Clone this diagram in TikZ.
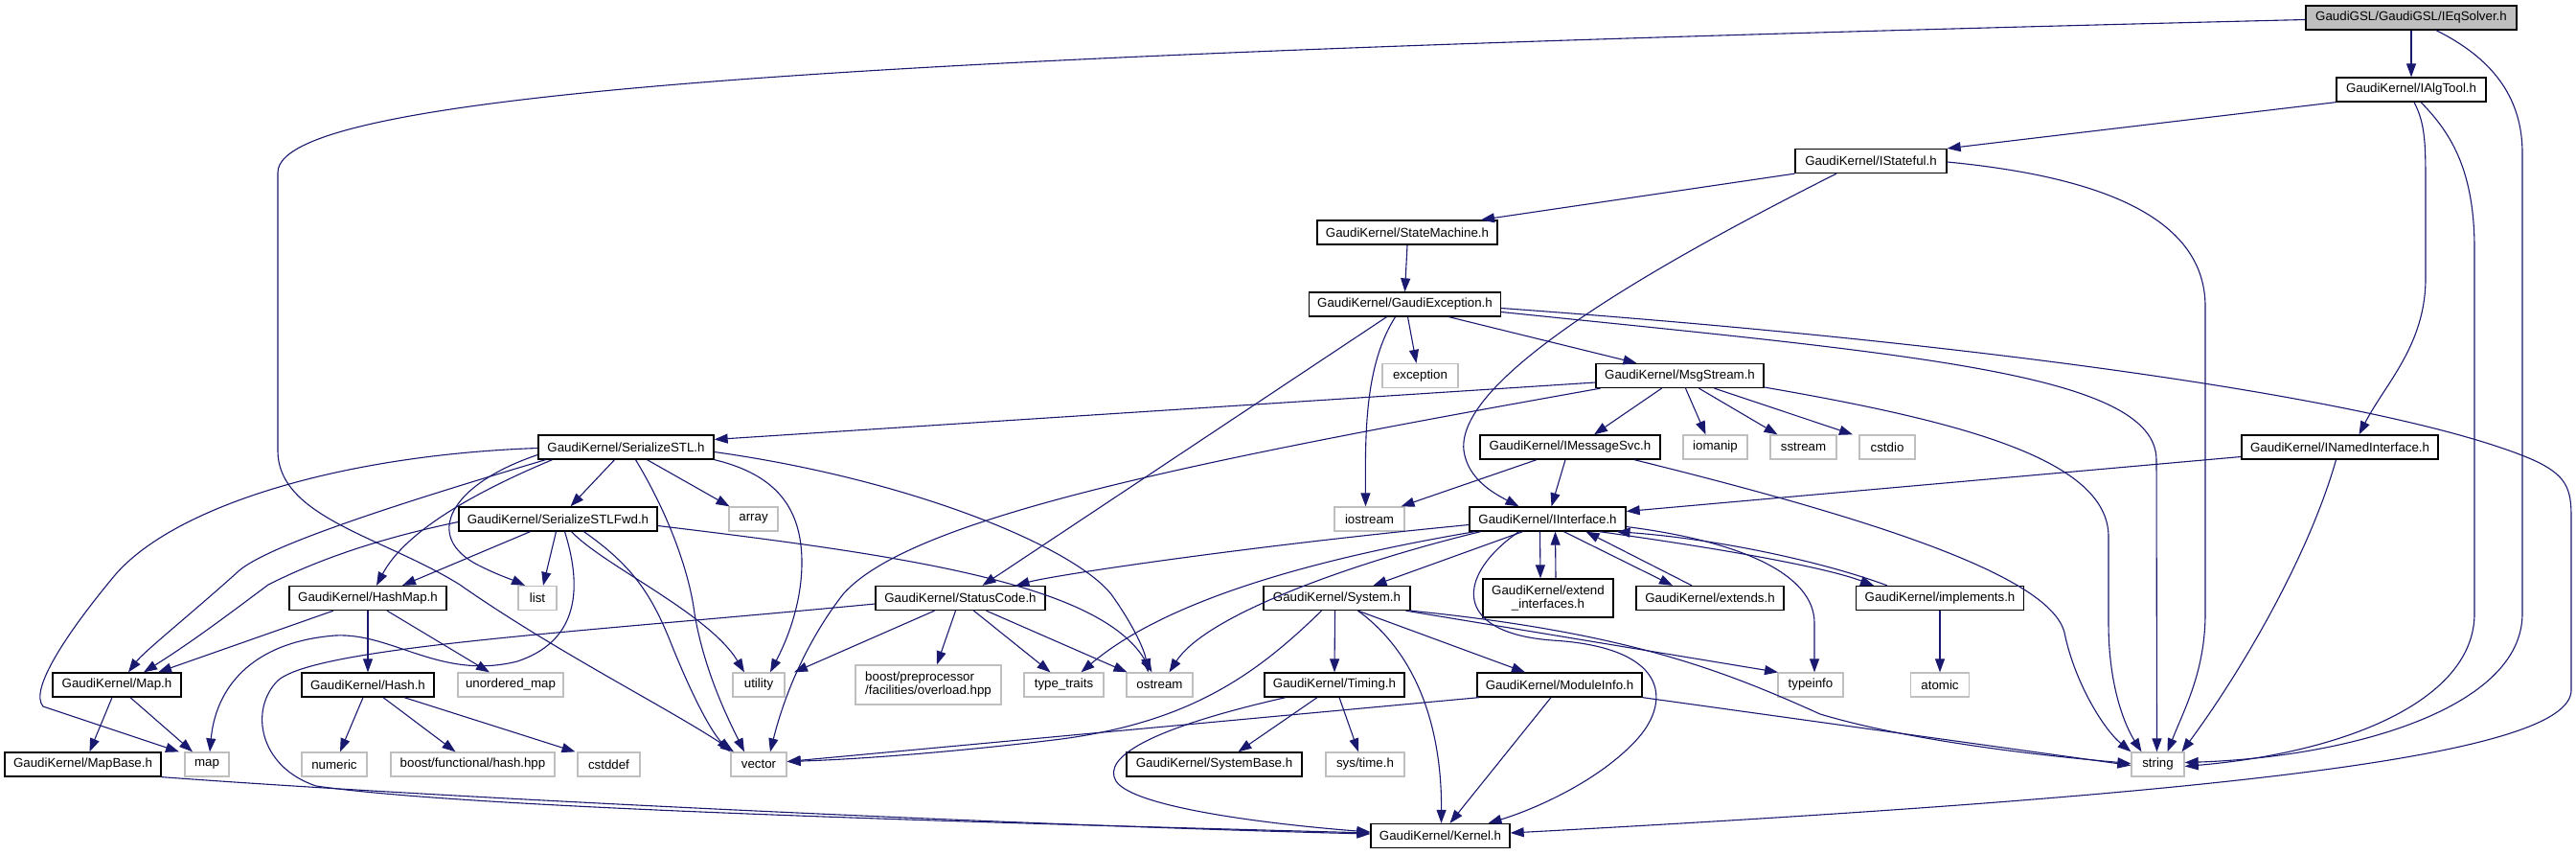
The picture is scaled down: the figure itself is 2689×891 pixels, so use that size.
\documentclass[tikz,border=0pt]{standalone}
\usepackage{fontspec}
\setmainfont{Liberation Sans}
\usetikzlibrary{arrows.meta}
\definecolor{edgeblue}{HTML}{191970}
\definecolor{grey75}{HTML}{BFBFBF}
\newcommand{\gfont}{\fontsize{13.3}{14}\selectfont}
\tikzset{
  hdr/.style={draw=black, line width=1.3pt, fill=white, inner sep=0pt, minimum height=25pt, font=\gfont, align=center},
  ext/.style={draw=grey75, line width=1.3pt, fill=white, inner sep=0pt, minimum height=25pt, font=\gfont, align=center},
  e/.style={draw=edgeblue, line width=1.1pt, -{Triangle[length=14pt,width=10pt]}, fill=none}
}
\begin{document}
\begin{tikzpicture}[x=1pt,y=-1pt]
\useasboundingbox (0,0) rectangle (2689,891);
% ---- nodes ----
\node[hdr, minimum width=220pt, fill=grey75] (IEqSolver) at (2517,18.5) {GaudiGSL/GaudiGSL/IEqSolver.h};
\node[hdr, minimum width=156pt] (IAlgTool) at (2517,93.5) {GaudiKernel/IAlgTool.h};
\node[hdr, minimum width=158pt] (IStateful) at (1953,168) {GaudiKernel/IStateful.h};
\node[hdr, minimum width=188pt] (StateMachine) at (1469,242.5) {GaudiKernel/StateMachine.h};
\node[hdr, minimum width=200pt] (GExc) at (1466.5,317.5) {GaudiKernel/GaudiException.h};
\node[ext, minimum width=79pt] (exception) at (1482.5,392) {exception};
\node[hdr, minimum width=175pt] (MsgStream) at (1753.5,392) {GaudiKernel/MsgStream.h};
\node[hdr, minimum width=188pt] (IMsgSvc) at (1639,466.5) {GaudiKernel/IMessageSvc.h};
\node[ext, minimum width=67pt] (iomanip) at (1790.5,466.5) {iomanip};
\node[ext, minimum width=69pt] (sstream) at (1882.5,466.5) {sstream};
\node[ext, minimum width=58pt] (cstdio) at (1970,466.5) {cstdio};
\node[hdr, minimum width=205pt] (INamed) at (2442.5,466.5) {GaudiKernel/INamedInterface.h};
\node[hdr, minimum width=183pt] (SerSTL) at (653.5,466.5) {GaudiKernel/SerializeSTL.h};
\node[ext, minimum width=73pt] (iostream) at (1429.5,541.5) {iostream};
\node[hdr, minimum width=163pt] (IInterface) at (1615.5,541.5) {GaudiKernel/IInterface.h};
\node[hdr, minimum width=207pt] (SerFwd) at (582.5,541.5) {GaudiKernel/SerializeSTLFwd.h};
\node[ext, minimum width=51pt] (array) at (786.5,541.5) {array};
\node[hdr, minimum width=164pt] (HashMap) at (384,624) {GaudiKernel/HashMap.h};
\node[ext, minimum width=40pt] (list) at (561,624) {list};
\node[hdr, minimum width=177pt] (StatusCode) at (1002.5,624) {GaudiKernel/StatusCode.h};
\node[hdr, minimum width=153pt] (System) at (1395.5,624) {GaudiKernel/System.h};
\node[hdr, minimum width=136pt, minimum height=40pt] (extendif) at (1616,624) {GaudiKernel/extend\\\_interfaces.h};
\node[hdr, minimum width=154pt] (extends) at (1785,624) {GaudiKernel/extends.h};
\node[hdr, minimum width=175pt] (implements) at (2025,624) {GaudiKernel/implements.h};
\node[hdr, minimum width=134pt] (Map) at (122,714.5) {GaudiKernel/Map.h};
\node[hdr, minimum width=138pt] (Hash) at (384,714.5) {GaudiKernel/Hash.h};
\node[ext, minimum width=110pt] (umap) at (533,714.5) {unordered\_map};
\node[ext, minimum width=54pt] (utility) at (792,714.5) {utility};
\node[ext, minimum width=152pt, minimum height=41pt, align=left] (boostpp) at (969,714.5) {boost/preprocessor\\/facilities/overload.hpp};
\node[ext, minimum width=83pt] (typetraits) at (1110.5,714.5) {type\_traits};
\node[ext, minimum width=69pt] (ostream) at (1210.5,714.5) {ostream};
\node[hdr, minimum width=146pt] (Timing) at (1393,714.5) {GaudiKernel/Timing.h};
\node[hdr, minimum width=172pt] (ModuleInfo) at (1628,714.5) {GaudiKernel/ModuleInfo.h};
\node[ext, minimum width=68pt] (typeinfo) at (1890,714.5) {typeinfo};
\node[ext, minimum width=61pt] (atomic) at (2025,714.5) {atomic};
\node[hdr, minimum width=163pt] (MapBase) at (86.5,797.5) {GaudiKernel/MapBase.h};
\node[ext, minimum width=46pt] (map) at (216,797.5) {map};
\node[ext, minimum width=68pt] (numeric) at (349,797.5) {numeric};
\node[ext, minimum width=171pt] (boosthash) at (493.5,797.5) {boost/functional/hash.hpp};
\node[ext, minimum width=65pt] (cstddef) at (635.5,797.5) {cstddef};
\node[ext, minimum width=58pt] (vector) at (792,797.5) {vector};
\node[hdr, minimum width=183pt] (SystemBase) at (1267.5,797.5) {GaudiKernel/SystemBase.h};
\node[ext, minimum width=82pt] (systime) at (1425,797.5) {sys/time.h};
\node[ext, minimum width=55pt] (string) at (2252.5,797.5) {string};
\node[hdr, minimum width=145pt] (Kernel) at (1503.5,872) {GaudiKernel/Kernel.h};
% ---- edges ----
% IEqSolver
\draw[e] (IEqSolver.south) -- (IAlgTool.north);
\draw[e] ([xshift=26pt]IEqSolver.south) .. controls (2600,60) and (2633,100) .. (2633,160) -- (2633,640) .. controls (2633,740) and (2450,790) .. ([yshift=2pt]string.east);
\draw[e] ([yshift=-2pt]IEqSolver.west) .. controls (1000,55) and (290,90) .. (290,180) -- (290,470) .. controls (290,540) and (400,560) .. (480,610) .. controls (580,680) and (700,740) .. ([xshift=-26pt]vector.north);
% IAlgTool
\draw[e] (IAlgTool.south west) -- (IStateful.north east);
\draw[e] ([xshift=3pt]IAlgTool.south) .. controls (2532,130) and (2532,150) .. (2532,200) -- (2532,290) .. controls (2532,360) and (2490,400) .. ([xshift=20pt]INamed.north);
\draw[e] ([xshift=10pt]IAlgTool.south) .. controls (2560,140) and (2583,180) .. (2583,260) -- (2583,640) .. controls (2583,730) and (2450,785) .. ([yshift=-2pt]string.east);
% IStateful
\draw[e] (IStateful.south west) -- ([xshift=77pt]StateMachine.north);
\draw[e] ([xshift=-36pt]IStateful.south) .. controls (1700,290) and (1520,400) .. (1528,470) .. controls (1532,500) and (1560,515) .. ([xshift=-30pt]IInterface.north);
\draw[e] ([yshift=-1pt]IStateful.east) .. controls (2200,185) and (2302,230) .. (2302,320) -- (2302,640) .. controls (2302,700) and (2280,740) .. ([xshift=10pt]string.north);
% StateMachine
\draw[e] (StateMachine.south) -- (GExc.north);
% GaudiException
\draw[e] ([xshift=3pt]GExc.south) -- ([xshift=-4pt]exception.north);
\draw[e] ([xshift=-10pt]GExc.south) .. controls (1425,380) and (1425,450) .. ([xshift=-4pt]iostream.north);
\draw[e] ([xshift=46pt]GExc.south) -- ([xshift=-45pt]MsgStream.north);
\draw[e] ([xshift=-19pt]GExc.south) -- ([xshift=23pt]StatusCode.north);
\draw[e] ([yshift=-8pt]GExc.east) .. controls (2000,370) and (2251,390) .. (2251,480) -- ([xshift=-1pt]string.north);
\draw[e] ([yshift=-4pt]GExc.east) .. controls (2100,360) and (2500,420) .. (2640,478) .. controls (2680,495) and (2684,510) .. (2684,540) -- (2684,720) .. controls (2684,790) and (2300,830) .. ([yshift=3pt]Kernel.east);
% MsgStream
\draw[e] ([yshift=-7pt]MsgStream.west) -- ([yshift=8pt]SerSTL.east);
\draw[e] ([xshift=-83pt]MsgStream.south) .. controls (1250,480) and (950,540) .. (880,620) .. controls (845,665) and (820,720) .. ([xshift=12pt]vector.north);
\draw[e] ([xshift=-19pt]MsgStream.south) -- ([xshift=25pt]IMsgSvc.north);
\draw[e] ([xshift=6pt]MsgStream.south) -- ([xshift=-10pt]iomanip.north);
\draw[e] ([xshift=20pt]MsgStream.south) -- ([xshift=-27pt]sstream.north);
\draw[e] ([xshift=36pt]MsgStream.south) -- ([xshift=-36pt]cstdio.north);
\draw[e] ([yshift=-12pt]MsgStream.east) .. controls (2050,440) and (2201,480) .. (2201,560) -- (2201,650) .. controls (2201,720) and (2220,760) .. ([xshift=-17pt]string.north);
% IMessageSvc
\draw[e] ([xshift=-35pt]IMsgSvc.south) -- ([xshift=33pt]iostream.north);
\draw[e] ([xshift=-5pt]IMsgSvc.south) -- ([xshift=4pt]IInterface.north);
\draw[e] ([xshift=67pt]IMsgSvc.south) .. controls (1950,540) and (2140,600) .. (2155,660) .. controls (2165,710) and (2195,760) .. ([xshift=-28pt]string.north);
% INamedInterface
\draw[e] ([yshift=-10pt]INamed.west) -- ([yshift=8pt]IInterface.east);
\draw[e] ([xshift=-4pt]INamed.south) .. controls (2410,580) and (2340,700) .. ([xshift=25pt]string.north);
% IInterface
\draw[e] ([yshift=-6pt]IInterface.west) .. controls (1300,570) and (1100,600) .. ([xshift=58pt]StatusCode.north);
\draw[e] ([xshift=-76pt]IInterface.south) .. controls (1420,575) and (1230,615) .. ([xshift=18pt]typetraits.north);
\draw[e] ([xshift=-70pt]IInterface.south) .. controls (1420,585) and (1260,640) .. ([xshift=10pt]ostream.north);
\draw[e] ([xshift=-26pt]IInterface.south) -- ([xshift=38pt]System.north);
\draw[e] ([xshift=-8pt]IInterface.south) -- ([xshift=-8pt]extendif.north);
\draw[e] ([xshift=8pt]extendif.north) -- ([xshift=8pt]IInterface.south);
\draw[e] ([xshift=17pt]IInterface.south) -- ([xshift=-39pt]extends.north);
\draw[e] ([xshift=-19pt]extends.north) -- ([xshift=40pt]IInterface.south);
\draw[e] ([xshift=54pt]IInterface.south) .. controls (1780,570) and (1900,590) .. ([xshift=-69pt]implements.north);
\draw[e] ([xshift=-55pt]implements.north) .. controls (1900,585) and (1790,562) .. ([xshift=72pt]IInterface.south);
\draw[e] ([yshift=-8pt]IInterface.east) .. controls (1820,565) and (1894,600) .. (1894,650) -- ([xshift=4pt]typeinfo.north);
\draw[e] ([xshift=-30pt]IInterface.south) .. controls (1520,600) and (1515,660) .. (1620,668) .. controls (1740,675) and (1745,730) .. (1710,770) .. controls (1670,815) and (1600,845) .. ([xshift=50pt]Kernel.north);
% System
\draw[e] ([xshift=-2pt]System.south) -- (Timing.north);
\draw[e] ([xshift=22pt]System.south) -- ([xshift=-36pt]ModuleInfo.north);
\draw[e] ([xshift=72pt]System.south) -- ([xshift=-34pt]typeinfo.north);
\draw[e] (System.south east) .. controls (1700,660) and (1800,700) .. (1900,745) .. controls (2000,775) and (2150,790) .. ([yshift=1pt]string.west);
\draw[e] ([xshift=22pt]System.south) .. controls (1490,690) and (1505,780) .. ([xshift=1pt]Kernel.north);
\draw[e] ([xshift=-16pt]System.south) .. controls (1310,705) and (1240,755) .. (1100,772) .. controls (1000,784) and (900,792) .. ([yshift=3pt]vector.east);
% Timing
\draw[e] ([xshift=-18pt]Timing.south) -- ([xshift=25pt]SystemBase.north);
\draw[e] ([xshift=5pt]Timing.south) -- ([xshift=-7pt]systime.north);
\draw[e] ([xshift=-51pt]Timing.south) .. controls (1200,760) and (1150,790) .. (1165,815) .. controls (1185,845) and (1350,862) .. ([yshift=4pt]Kernel.west);
% ModuleInfo
\draw[e] ([xshift=-84pt]ModuleInfo.south) -- ([yshift=3pt]vector.east);
\draw[e] ([xshift=-9pt]ModuleInfo.south) -- ([xshift=10pt]Kernel.north);
\draw[e] (ModuleInfo.south east) -- ([yshift=-1pt]string.west);
% StatusCode
\draw[e] ([xshift=-27pt]StatusCode.south) -- ([xshift=37pt]utility.north);
\draw[e] ([xshift=-5pt]StatusCode.south) -- ([xshift=9pt]boostpp.north);
\draw[e] ([xshift=14pt]StatusCode.south) -- ([xshift=-14pt]typetraits.north);
\draw[e] ([xshift=27pt]StatusCode.south) -- ([xshift=-34pt]ostream.north);
\draw[e] ([yshift=-6pt]StatusCode.west) .. controls (600,660) and (330,675) .. (290,710) .. controls (260,740) and (270,800) .. (330,820) .. controls (500,845) and (1100,860) .. ([yshift=3pt]Kernel.west);
% MapBase
\draw[e] (MapBase.south east) .. controls (500,835) and (1100,862) .. ([yshift=2pt]Kernel.west);
% SerializeSTL
\draw[e] ([xshift=-12pt]SerSTL.south) -- ([xshift=13pt]SerFwd.north);
\draw[e] ([xshift=22pt]SerSTL.south) -- ([xshift=-25pt]array.north);
\draw[e] ([xshift=10pt]SerSTL.south) .. controls (700,540) and (720,600) .. (725,640) .. controls (735,700) and (760,750) .. ([xshift=-15pt]vector.north);
\draw[e] (SerSTL.south east) .. controls (810,495) and (838,530) .. (837,590) .. controls (836,640) and (815,680) .. ([xshift=12pt]utility.north);
\draw[e] ([yshift=-5pt]SerSTL.east) .. controls (950,500) and (1120,570) .. (1160,620) .. controls (1185,655) and (1195,680) .. ([xshift=-12pt]ostream.north);
\draw[e] ([yshift=-8pt]SerSTL.west) .. controls (470,505) and (440,560) .. (500,590) .. controls (520,600) and (535,605) .. ([xshift=-13pt]list.north);
\draw[e] ([xshift=-77pt]SerSTL.south) .. controls (480,520) and (420,560) .. ([xshift=9pt]HashMap.north);
\draw[e] ([xshift=-84pt]SerSTL.south) .. controls (400,530) and (280,570) .. (250,595) .. controls (200,640) and (150,680) .. ([xshift=12pt]Map.north);
\draw[e] ([yshift=-1pt]SerSTL.west) .. controls (350,475) and (180,530) .. (120,600) .. controls (70,660) and (30,720) .. (45,737) -- ([xshift=-29pt]map.north);
% SerializeSTLFwd
\draw[e] ([xshift=-29pt]SerFwd.south) -- ([xshift=36pt]HashMap.north);
\draw[e] ([xshift=-2pt]SerFwd.south) -- ([xshift=6pt]list.north);
\draw[e] ([yshift=-3pt]SerFwd.west) .. controls (380,565) and (320,590) .. (280,610) .. controls (240,640) and (200,670) .. ([xshift=28pt]Map.north);
\draw[e] ([xshift=7pt]SerFwd.south) .. controls (610,620) and (600,670) .. (540,690) .. controls (460,710) and (410,660) .. (350,663) .. controls (260,670) and (225,720) .. ([xshift=3pt]map.north);
\draw[e] ([xshift=14pt]SerFwd.south) .. controls (630,590) and (740,640) .. ([xshift=-15pt]utility.north);
\draw[e] ([xshift=27pt]SerFwd.south) .. controls (660,590) and (680,620) .. (700,670) .. controls (720,720) and (740,760) .. ([xshift=-30pt]vector.north);
\draw[e] ([yshift=-7pt]SerFwd.east) .. controls (950,580) and (1150,610) .. ([xshift=-8pt]ostream.north);
% HashMap, Map, Hash
\draw[e] ([xshift=-36pt]HashMap.south) -- ([xshift=43pt]Map.north);
\draw[e] (HashMap.south) -- (Hash.north);
\draw[e] ([xshift=20pt]HashMap.south) -- ([xshift=-22pt]umap.north);
\draw[e] ([xshift=-5pt]Map.south) -- ([xshift=7pt]MapBase.north);
\draw[e] ([xshift=14pt]Map.south) -- ([xshift=-15pt]map.north);
\draw[e] ([xshift=-5pt]Hash.south) -- ([xshift=6pt]numeric.north);
\draw[e] ([xshift=16pt]Hash.south) -- ([xshift=-18pt]boosthash.north);
\draw[e] ([xshift=38pt]Hash.south) -- ([xshift=-35pt]cstddef.north);
% implements
\draw[e] (implements.south) -- (atomic.north);
\end{tikzpicture}
\end{document}
